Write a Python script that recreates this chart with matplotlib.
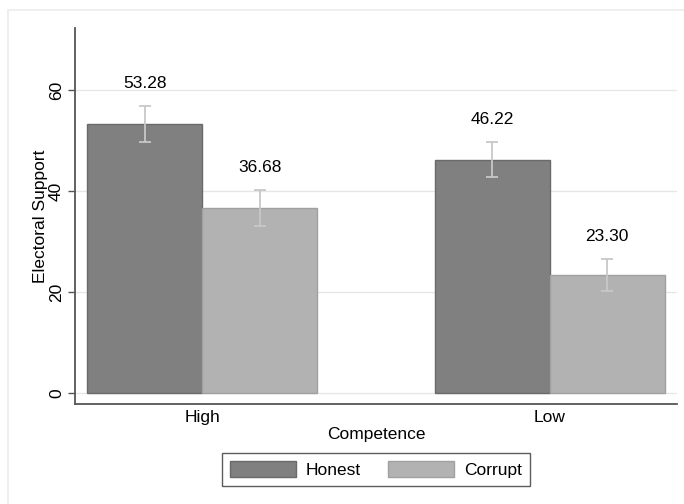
import matplotlib.pyplot as plt
from matplotlib.patches import Rectangle
import numpy as np

plt.rcParams['font.family'] = ['Liberation Sans', 'DejaVu Sans']

# Data
groups = ['High', 'Low']
series = ['Honest', 'Corrupt']
honest = [53.28, 46.22]
corrupt = [36.68, 23.30]
honest_err = [3.6, 3.45]
corrupt_err = [3.55, 3.2]

colors = {'Honest': '#808080', 'Corrupt': '#b2b2b2'}
edges = {'Honest': '#6a6a6a', 'Corrupt': '#a0a0a0'}
fs = 12.5

fig = plt.figure(figsize=(6.84, 5.04), dpi=100)
ax = fig.add_axes([75 / 684, 1 - 404 / 504, (677 - 75) / 684, (404 - 28) / 504])

# outer graph region border (only top/left fall inside the image)
fig.patches.append(Rectangle((8 / 684, -0.05), 1.0, 1 - 10 / 504 + 0.05,
                             transform=fig.transFigure, fill=False,
                             edgecolor='#ececec', linewidth=1.2))

x = np.arange(len(groups))
w = 0.331
for vals, errs, name, off in [(honest, honest_err, 'Honest', -w / 2),
                              (corrupt, corrupt_err, 'Corrupt', w / 2)]:
    ax.bar(x + off, vals, width=w, color=colors[name], edgecolor=edges[name],
           linewidth=1, label=name, zorder=2)
    ax.errorbar(x + off, vals, yerr=errs, fmt='none', ecolor='#c8c8c8',
                elinewidth=1.3, capsize=4, capthick=1.3, zorder=3)
    for xi, v, e in zip(x + off, vals, errs):
        ax.annotate(f'{v:.2f}', (xi, v + e), xytext=(0, 15),
                    textcoords='offset pixels', ha='center', va='bottom',
                    fontsize=fs)

ax.set_xlim(-0.367, 1.367)
ax.set_ylim(-2.2, 72.3)
ax.set_yticks([0, 20, 40, 60])
ax.set_yticklabels(['0', '20', '40', '60'], rotation=90, va='center', fontsize=fs)
ax.set_xticks(x)
ax.set_xticklabels(groups, fontsize=fs)
ax.tick_params(axis='y', length=5, color='#555555', width=1, pad=3)
ax.tick_params(axis='x', length=0, pad=4)
ax.grid(axis='y', color='#e6e6e6', linewidth=1, zorder=0)
ax.set_axisbelow(True)

for s in ['top', 'right']:
    ax.spines[s].set_visible(False)
for s in ['left', 'bottom']:
    ax.spines[s].set_color('#555555')
    ax.spines[s].set_linewidth(1.3)

ax.set_ylabel('Electoral Support', fontsize=fs, labelpad=1)
ax.set_xlabel('Competence', fontsize=fs, labelpad=2)

leg = fig.legend(loc='center', bbox_to_anchor=(376 / 684, 1 - 469.5 / 504),
                 ncol=2, fontsize=fs, frameon=True, fancybox=False,
                 handlelength=3.8, handleheight=1.0, columnspacing=1.55,
                 handletextpad=0.57, borderpad=0.45, borderaxespad=0)
leg.get_frame().set_edgecolor('#333333')
leg.get_frame().set_linewidth(1)

fig.savefig('out.png', dpi=100)
